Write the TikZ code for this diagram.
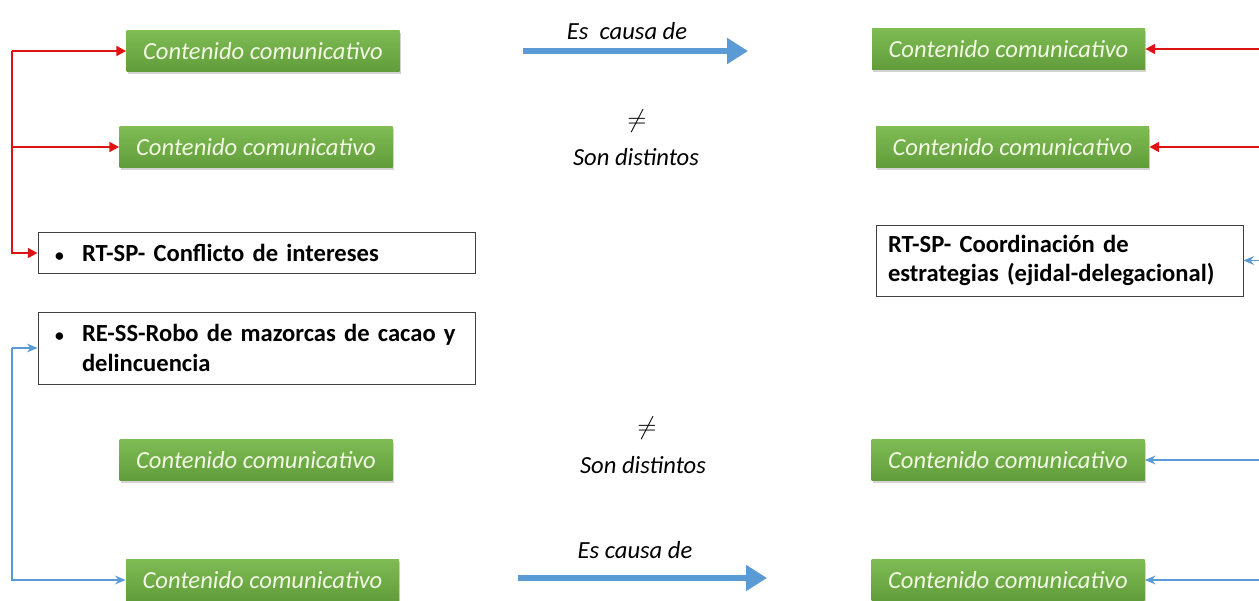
\documentclass[tikz,border=0pt]{standalone}
\usepackage{fontspec}
\setmainfont{Carlito}
\usepackage{xcolor}
\usepackage{tikz}
\usetikzlibrary{arrows.meta, shadows}
\definecolor{greentop}{RGB}{128,188,84}
\definecolor{greenbot}{RGB}{96,156,58}
\definecolor{greentext}{RGB}{242,248,228}
\definecolor{linkred}{RGB}{222,20,20}
\definecolor{linkblue}{RGB}{91,155,213}
\newcommand{\smallbul}{\makebox[0.58cm][l]{\hspace*{0.04cm}{\fontsize{10}{10}\selectfont\textbullet}}}
\tikzset{
    comm/.style={rectangle, minimum width=5.46cm, minimum height=0.82cm, inner sep=0pt, text centered, top color=greentop, bottom color=greenbot, draw=none, text=greentext, font=\fontsize{14}{17}\selectfont\itshape, drop shadow={shadow xshift=0.6pt, shadow yshift=-1.6pt, opacity=0.35}},
    textbox/.style={rectangle, draw=black!75, line width=0.5pt, fill=white, align=left, inner xsep=0.3cm, inner ysep=0pt, font=\fontsize{14}{17}\selectfont\bfseries},
    midlabel/.style={font=\fontsize{14}{17}\selectfont\itshape, inner sep=0pt},
    redarrow/.style={draw=linkred, line width=1.3pt, -{Triangle[length=5.5pt, width=5.5pt]}},
    bluearrow/.style={draw=linkblue, line width=1.1pt, -{Stealth[length=6pt, width=5pt]}},
    bigarrow/.style={draw=linkblue, line width=3.4pt, -{Triangle[length=0.42cm, width=0.5cm]}}
}

\begin{document}
\begin{tikzpicture}
    \useasboundingbox (0,0) rectangle (25.18,-12.02);
    \coordinate (spine) at (0.24,0);
    \coordinate (edge) at (25.18,0);

    \node (gl1) [comm] at (5.26,-1.02) {Contenido comunicativo};
    \node (gl2) [comm] at (5.12,-2.94) {Contenido comunicativo};
    \node (rtsp) [textbox, text width=8.14cm, minimum height=0.82cm] at (5.13,-5.06) {\smallbul RT-SP- Conflicto de intereses};
    \node (ress) [textbox, text width=8.14cm, minimum height=1.44cm] at (5.13,-6.96) {\smallbul RE-SS-Robo de mazorcas de cacao y\\\hspace*{0.58cm}delincuencia};
    \node (gl3) [comm] at (5.12,-9.20) {Contenido comunicativo};
    \node (gl4) [comm] at (5.25,-11.60) {Contenido comunicativo};

    \node (gr1) [comm] at (20.17,-0.98) {Contenido comunicativo};
    \node (gr2) [comm] at (20.25,-2.94) {Contenido comunicativo};
    \node (rtco) [textbox, text width=7.34cm-0.48cm, inner xsep=0.24cm, minimum height=1.42cm] at (21.19,-5.21) {RT-SP- Coordinación de\\estrategias (ejidal-delegacional)};
    \node (gr3) [comm] at (20.16,-9.20) {Contenido comunicativo};
    \node (gr4) [comm] at (20.16,-11.60) {Contenido comunicativo};

    \node (causa1) [midlabel] at (12.54,-0.62) {Es\ \ causa de};
    \node (neq1) [midlabel] at (12.74,-2.42) {$\neq$};
    \node (dist1) [midlabel] at (12.72,-3.14) {Son distintos};
    \node (neq2) [midlabel] at (12.94,-8.56) {$\neq$};
    \node (dist2) [midlabel] at (12.86,-9.30) {Son distintos};
    \node (causa2) [midlabel] at (12.70,-11.00) {Es causa de};

    \coordinate (c1s) at (10.46,-1.02);
    \coordinate (c1e) at (14.96,-1.02);
    \coordinate (c2s) at (10.36,-11.56);
    \coordinate (c2e) at (15.34,-11.56);
    \draw [bigarrow] (c1s) -- (c1e);
    \draw [bigarrow] (c2s) -- (c2e);

    \draw [redarrow] (gl1 -| spine) -- (gl1);
    \draw [redarrow] (gl2 -| spine) -- (gl2);
    \draw [redarrow] (gl1 -| spine) |- (rtsp);
    \draw [bluearrow] (ress -| spine) -- (ress);
    \draw [bluearrow] (ress -| spine) |- (gl4);

    \draw [redarrow] (gr1 -| edge) -- (gr1);
    \draw [redarrow] (gr2 -| edge) -- (gr2);
    \draw [bluearrow] (rtco -| edge) -- (rtco);
    \draw [bluearrow] (gr3 -| edge) -- (gr3);
    \draw [bluearrow] (gr4 -| edge) -- (gr4);
\end{tikzpicture}
\end{document}
